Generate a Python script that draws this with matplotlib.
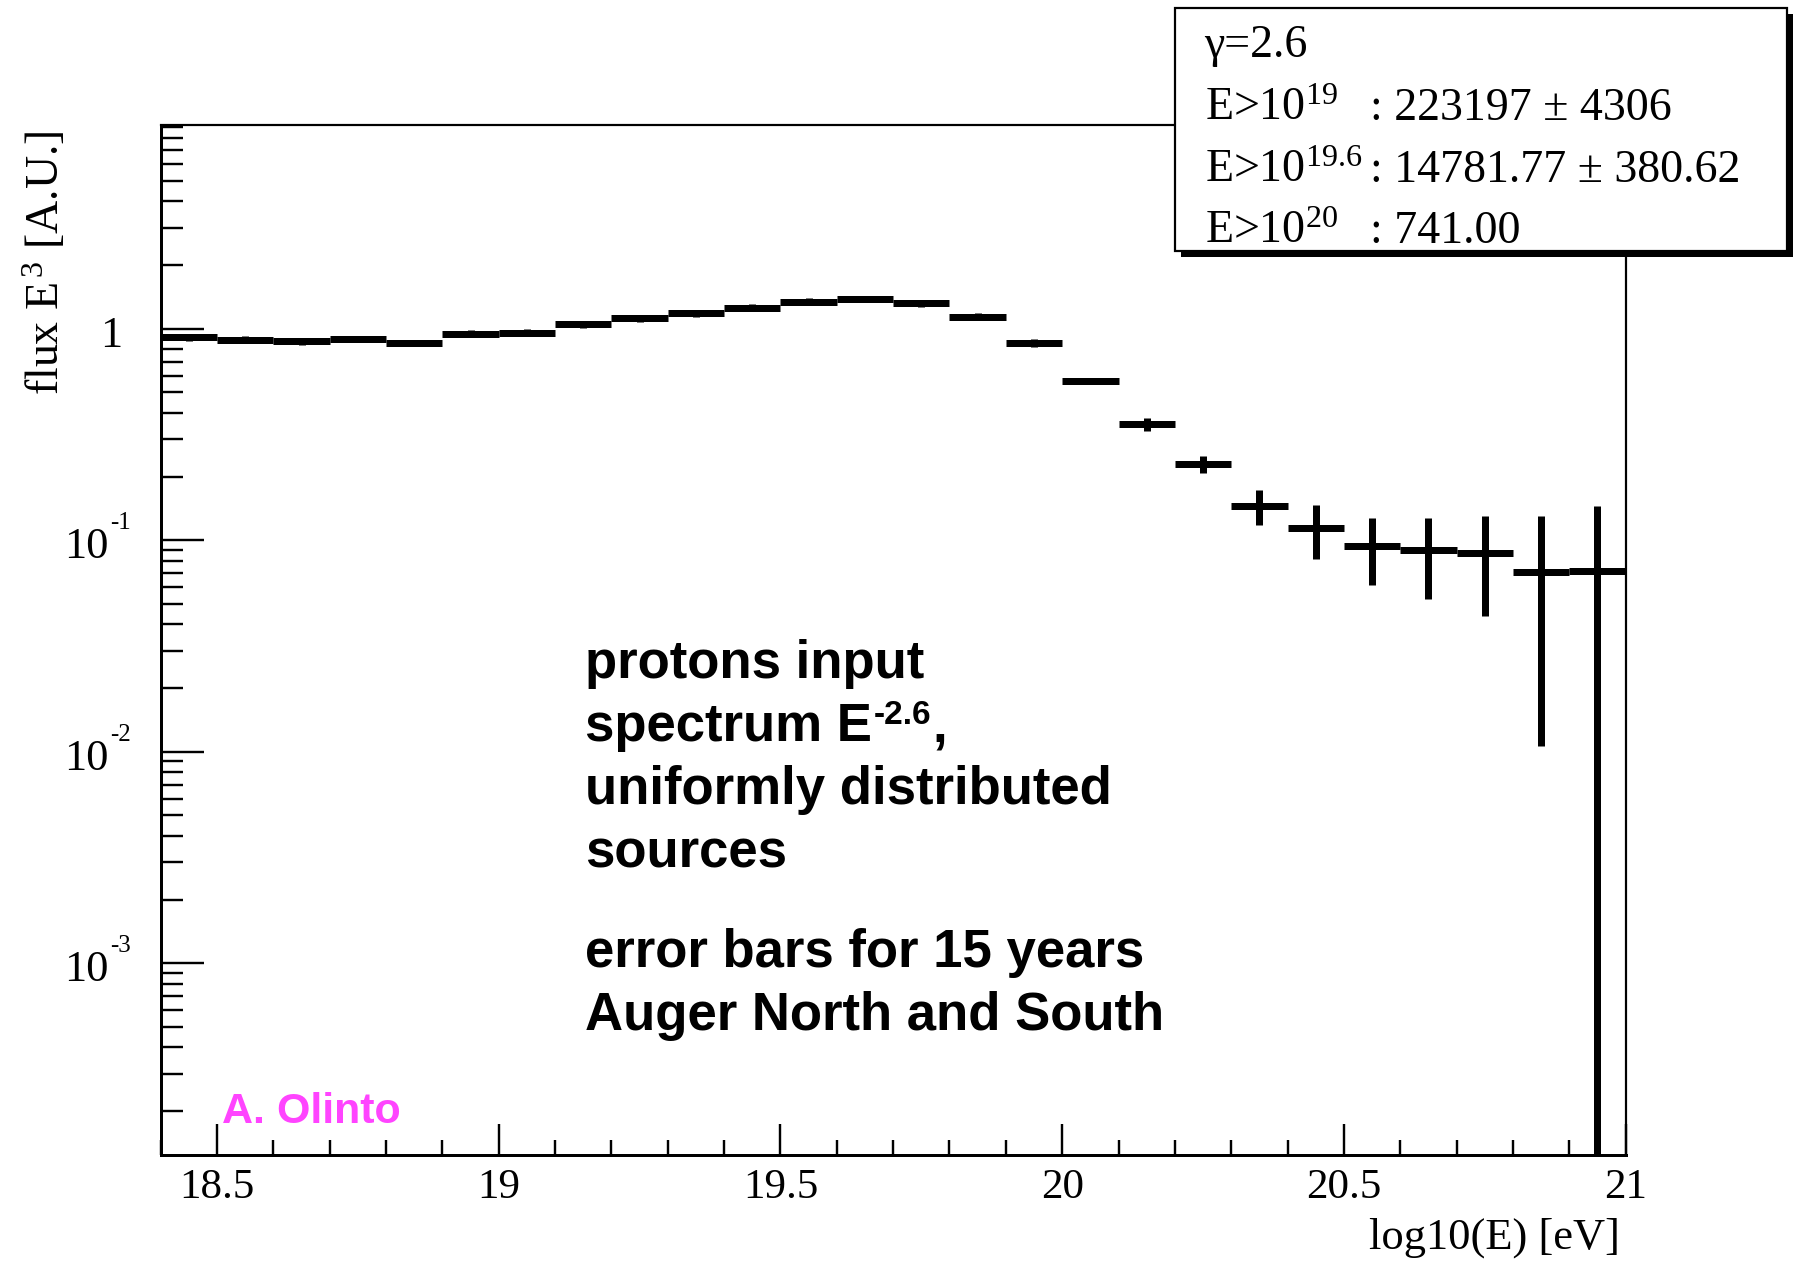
import matplotlib
matplotlib.use("Agg")
import matplotlib.pyplot as plt
from matplotlib.patches import Rectangle
from matplotlib.ticker import MultipleLocator, LogLocator, NullFormatter, FixedFormatter, FixedLocator

# ---------------- data ----------------
bin_centers = [18.45, 18.55, 18.65, 18.75, 18.85, 18.95, 19.05, 19.15, 19.25, 19.35,
               19.45, 19.55, 19.65, 19.75, 19.85, 19.95, 20.05, 20.15, 20.25, 20.35,
               20.45, 20.55, 20.65, 20.75, 20.85, 20.95]
flux = [0.913, 0.890, 0.874, 0.896, 0.858, 0.947, 0.957, 1.049, 1.120, 1.183,
        1.260, 1.345, 1.384, 1.325, 1.140, 0.858, 0.566, 0.353, 0.229, 0.145,
        0.1145, 0.0943, 0.0900, 0.0867, 0.0707, 0.0715]
flux_err = [0.034, 0.033, 0.032, 0.033, 0.032, 0.035, 0.036, 0.040, 0.042, 0.044,
            0.047, 0.050, 0.052, 0.050, 0.045, 0.036, 0.015, 0.024, 0.022, 0.027,
            0.033, 0.033, 0.037, 0.043, 0.060, 0.074]
bin_half_width = 0.05

x_tick_values = [18.5, 19.0, 19.5, 20.0, 20.5, 21.0]
x_tick_labels = ["18.5", "19", "19.5", "20", "20.5", "21"]
y_tick_values = [1e-3, 1e-2, 1e-1, 1.0]
y_tick_bases = ["10", "10", "10", "1"]
y_tick_exps = ["-3", "-2", "-1", ""]

x_title = "log10(E) [eV]"
y_title = r"flux E$^{\,3}$ [A.U.]"

stat_header = "\u03b3=2.6"
stat_labels = [r"E>10$^{19}$", r"E>10$^{19.6}$", r"E>10$^{20}$"]
stat_values = [": 223197 \u00b1 4306", ": 14781.77 \u00b1 380.62", ": 741.00"]

note_lines = ["protons input", "spectrum E", "uniformly distributed", "sources"]
note_sup = "-2.6"
note_sup_tail = ","
note_lines2 = ["error bars for 15 years", "Auger North and South"]
author = "A. Olinto"

# ---------------- style ----------------
plt.rcParams["font.family"] = ["Liberation Serif", "DejaVu Serif"]
plt.rcParams["mathtext.fontset"] = "custom"
plt.rcParams["mathtext.rm"] = "Liberation Serif"
plt.rcParams["mathtext.it"] = "Liberation Serif:italic"
plt.rcParams["mathtext.bf"] = "Liberation Serif:bold"
plt.rcParams["mathtext.sf"] = "Liberation Sans:bold"

W, H = 1793, 1263
DPI = 100
PT = 72.0 / DPI  # points per pixel

fig = plt.figure(figsize=(W / DPI, H / DPI), dpi=DPI)
fig.patch.set_facecolor("white")


def fx(x):
    return x / W


def fy(y):
    return 1 - y / H


ax_l, ax_r, ax_t, ax_b = 160.7, 1625.6, 125.0, 1155.0
ax = fig.add_axes([fx(ax_l), fy(ax_b), (ax_r - ax_l) / W, (ax_b - ax_t) / H])
ax.set_yscale("log")
ax.set_xlim(18.4, 21.0)
ax.set_ylim(1.24e-4, 9.2)

ax.errorbar(bin_centers, flux, xerr=bin_half_width, yerr=flux_err, fmt="none",
            ecolor="black", elinewidth=7 * PT, capsize=0)

# x ticks
ax.xaxis.set_major_locator(FixedLocator(x_tick_values))
ax.xaxis.set_major_formatter(FixedFormatter(x_tick_labels))
ax.xaxis.set_minor_locator(MultipleLocator(0.1))
ax.tick_params(axis="x", which="major", direction="in", length=31 * PT, width=2.4 * PT,
               pad=14 * PT, labelsize=31, top=False, color="black")
ax.tick_params(axis="x", which="minor", direction="in", length=15 * PT, width=2.4 * PT,
               top=False)

# y ticks
ax.yaxis.set_major_locator(LogLocator(base=10, numticks=20))
ax.yaxis.set_minor_locator(LogLocator(base=10, subs=[2, 3, 4, 5, 6, 7, 8, 9], numticks=20))
ax.yaxis.set_minor_formatter(NullFormatter())
ax.tick_params(axis="y", which="major", direction="in", length=43 * PT, width=2.4 * PT,
               right=False, labelleft=False)
ax.tick_params(axis="y", which="minor", direction="in", length=22 * PT, width=2.4 * PT,
               right=False, labelleft=False)

for s in ["left", "bottom"]:
    ax.spines[s].set_linewidth(3.0 * PT)
for s in ["top", "right"]:
    ax.spines[s].set_linewidth(2.2 * PT)

# manual y tick labels (ROOT style)
for v, b, e in zip(y_tick_values, y_tick_bases, y_tick_exps):
    if e:
        ax.annotate(b, xy=(0, v), xycoords=("axes fraction", "data"), xytext=(-52, -7),
                    textcoords="offset pixels", ha="right", va="center", fontsize=32)
        ax.annotate(e, xy=(0, v), xycoords=("axes fraction", "data"), xytext=(-51, 17),
                    textcoords="offset pixels", ha="left", va="center", fontsize=18)
    else:
        ax.annotate(b, xy=(0, v), xycoords=("axes fraction", "data"), xytext=(-38, -7),
                    textcoords="offset pixels", ha="right", va="center", fontsize=32)

# axis titles
fig.text(fx(1620), fy(1238), x_title, ha="right", va="center", fontsize=32)
fig.text(fx(46), fy(131), y_title, ha="center", va="top", rotation=90, fontsize=33)

# annotation text
note_kw = dict(family="Liberation Sans", fontweight="bold", fontsize=38, color="black",
               ha="left", va="baseline")
renderer = fig.canvas.get_renderer()
for i, line in enumerate(note_lines):
    yb = 678 + 63 * i
    t = fig.text(fx(585), fy(yb), line, **note_kw)
    if i == 1:
        bb = t.get_window_extent(renderer=renderer)
        sup_kw = dict(note_kw)
        sup_kw["fontsize"] = 24
        ts = fig.text((bb.x1 + 2) / W, fy(yb - 17), note_sup, **sup_kw)
        bb2 = ts.get_window_extent(renderer=renderer)
        fig.text((bb2.x1 + 1) / W, fy(yb), note_sup_tail, **note_kw)
for i, line in enumerate(note_lines2):
    fig.text(fx(585), fy(967 + 63 * i), line, **note_kw)

fig.text(fx(222), fy(1123), author, family="Liberation Sans", fontweight="bold",
         fontsize=31, color="#ff44ff", ha="left", va="baseline")

# stats box with shadow
bx0, by0, bx1, by1 = 1175, 8, 1787, 251
sh = 6
fig.add_artist(Rectangle((fx(bx0 + sh), fy(by1 + sh)), (bx1 - bx0) / W, (by1 - by0) / H,
                         transform=fig.transFigure, facecolor="black", edgecolor="black",
                         linewidth=0, zorder=5))
fig.add_artist(Rectangle((fx(bx0), fy(by1)), (bx1 - bx0) / W, (by1 - by0) / H,
                         transform=fig.transFigure, facecolor="white", edgecolor="black",
                         linewidth=2.2 * PT, zorder=6))
fig.text(fx(1204), fy(57), stat_header, fontsize=33, ha="left", va="baseline", zorder=7)
for i, (lab, val) in enumerate(zip(stat_labels, stat_values)):
    yb = 120 + 61.5 * i
    fig.text(fx(1205), fy(yb), lab, fontsize=33, ha="left", va="baseline", zorder=7)
    fig.text(fx(1370), fy(yb), val, fontsize=33, ha="left", va="baseline", zorder=7)

fig.savefig("out.png", dpi=DPI, facecolor="white")
